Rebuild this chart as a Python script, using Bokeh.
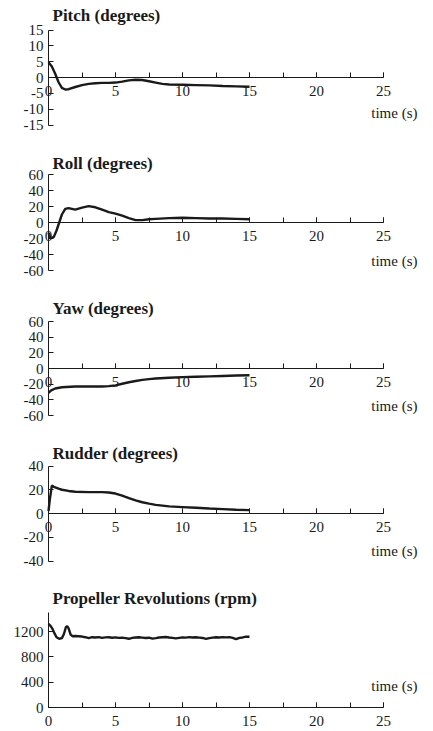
from bokeh.plotting import figure
from bokeh.models import (Range1d, LinearAxis, FixedTicker, SingleIntervalTicker, Label,
                          PrintfTickFormatter)
from bokeh.layouts import column
from bokeh.embed import file_html
from bokeh.resources import INLINE

# ---------------- data ----------------
pitch_t = [0, 0.25, 0.5, 0.75, 1.0, 1.25, 1.5, 2.0, 2.5, 3.0, 3.5, 4.0, 4.5, 5.0, 5.5,
           6.0, 6.5, 7.0, 7.5, 8.0, 8.5, 9.0, 10, 11, 12, 13, 14, 15]
pitch_deg = [4.8, 3.5, 1.2, -1.5, -3.3, -3.8, -3.7, -3.0, -2.4, -2.0, -1.8, -1.7, -1.7, -1.6, -1.3,
             -0.9, -0.7, -0.8, -1.2, -1.6, -2.0, -2.2, -2.3, -2.4, -2.5, -2.7, -2.8, -2.9]

roll_t = [0, 0.15, 0.4, 0.6, 0.8, 1.0, 1.25, 1.5, 1.75, 2.0, 2.5, 3.0, 3.5, 4.0, 4.5, 5.0,
          5.5, 6.0, 6.5, 7.0, 7.5, 8.0, 9.0, 10, 11, 12, 13, 14, 15]
roll_deg = [-13, -20, -18, -10, 0, 10, 17, 18, 17, 16, 18.5, 20.5, 19, 16, 13, 11,
            8.5, 5.5, 3, 3, 4, 4.5, 5.5, 6, 5.5, 5, 5, 4.5, 4]

yaw_t = [0, 0.2, 0.5, 1.0, 2.0, 3.0, 4.0, 4.5, 5.0, 5.5, 6.0, 6.5, 7.0, 7.5, 8.0, 9.0,
         10, 11, 12, 13, 14, 15]
yaw_deg = [-31, -28, -25.5, -24, -23, -23, -23, -22.5, -21.5, -19.5, -17.5, -16, -14.5, -13.5, -12.8, -11.8,
           -11, -10.5, -10, -9.5, -9, -8.7]

rudder_t = [0, 0.1, 0.25, 0.4, 0.75, 1.0, 1.5, 2.0, 3.0, 4.0, 4.5, 5.0, 5.5, 6.0, 6.5, 7.0,
            7.5, 8.0, 9.0, 10, 11, 12, 13, 14, 15]
rudder_deg = [2, 12, 23.5, 22.5, 21, 20, 19, 18.3, 18, 18, 17.7, 16.8, 15, 13, 11, 9.5,
              8.3, 7.3, 6, 5.4, 4.8, 4.2, 3.7, 3.2, 2.8]

rpm_t = [0, 0.15, 0.3, 0.45, 0.6, 0.8, 1.0, 1.15, 1.3, 1.4, 1.5, 1.65, 1.8,
         2.0, 2.25, 2.5, 2.75, 3.0, 3.25, 3.5, 3.75, 4.0, 4.25, 4.5, 4.75, 5.0, 5.25, 5.5, 5.75,
         6.0, 6.25, 6.5, 6.75, 7.0, 7.25, 7.5, 7.75, 8.0, 8.25, 8.5, 8.75, 9.0, 9.25, 9.5, 9.75,
         10.0, 10.25, 10.5, 10.75, 11.0, 11.25, 11.5, 11.75, 12.0, 12.25, 12.5, 12.75, 13.0, 13.25,
         13.5, 13.75, 14.0, 14.25, 14.5, 14.75, 15.0]
rpm = [1320, 1290, 1240, 1170, 1110, 1085, 1095, 1160, 1270, 1285, 1250, 1150, 1125,
       1130, 1125, 1120, 1110, 1095, 1110, 1105, 1112, 1100, 1108, 1110, 1102, 1108, 1100, 1104, 1095,
       1085, 1100, 1106, 1110, 1104, 1098, 1102, 1088, 1096, 1105, 1110, 1114, 1106, 1100, 1092, 1100,
       1108, 1104, 1112, 1106, 1110, 1104, 1098, 1084, 1096, 1104, 1110, 1106, 1112, 1108,
       1112, 1100, 1080, 1100, 1106, 1118, 1116]

titles = ["Pitch (degrees)", "Roll (degrees)", "Yaw (degrees)", "Rudder (degrees)",
          "Propeller Revolutions (rpm)"]
pitch_ticks = [-15, -10, -5, 0, 5, 10, 15]
roll_ticks = [-60, -40, -20, 0, 20, 40, 60]
yaw_ticks = [-60, -40, -20, 0, 20, 40, 60]
rudder_ticks = [-40, -20, 0, 20, 40]
rpm_ticks = [0, 400, 800, 1200]
time_label = "time (s)"

# ---------------- layout helpers ----------------
W = 433
X0_PX = 48.0      # pixel column of t = 0
PX_PER_S = 13.4   # pixels per second
FONT = "Liberation Serif"
INK = "#1a1a1a"


def make_panel(title, t, y, y_ticks, y_bounds, height, zero_px, px_per_unit,
               title_px, time_px):
    x_start = -X0_PX / PX_PER_S
    x_end = (W - X0_PX) / PX_PER_S
    y_end = zero_px / px_per_unit
    y_start = -(height - zero_px) / px_per_unit
    p = figure(width=W, height=height,
               x_range=Range1d(x_start, x_end), y_range=Range1d(y_start, y_end),
               output_backend="svg", toolbar_location=None,
               x_axis_type=None, y_axis_type=None, min_border=0)
    p.outline_line_color = None
    p.background_fill_color = "white"
    p.border_fill_color = "white"

    xaxis = LinearAxis(fixed_location=0, bounds=(0, 25),
                       ticker=SingleIntervalTicker(interval=5, num_minor_ticks=2),
                       formatter=PrintfTickFormatter(format="%d"))
    yaxis = LinearAxis(fixed_location=0, bounds=y_bounds,
                       ticker=FixedTicker(ticks=y_ticks, minor_ticks=[]),
                       formatter=PrintfTickFormatter(format="%d"))
    for ax in (xaxis, yaxis):
        ax.axis_line_color = INK
        ax.axis_line_width = 1
        ax.major_tick_line_color = INK
        ax.minor_tick_line_color = INK
        ax.major_tick_in = 5
        ax.major_tick_out = 0
        ax.minor_tick_in = 5
        ax.minor_tick_out = 0
        ax.major_label_text_font = FONT
        ax.major_label_text_font_size = "15px"
        ax.major_label_text_color = INK
    xaxis.major_label_standoff = 8
    yaxis.major_label_standoff = 5
    p.add_layout(xaxis, "below")
    p.add_layout(yaxis, "left")

    p.line(t, y, line_width=2.4, line_color=INK)

    tx = (52 - X0_PX) / PX_PER_S
    ty = (zero_px - title_px) / px_per_unit
    p.add_layout(Label(x=tx, y=ty, text=title, text_font=FONT, text_font_style="bold",
                       text_font_size="17px", text_color=INK, text_baseline="middle",
                       text_align="left"))
    lx = (417 - X0_PX) / PX_PER_S
    ly = (zero_px - time_px) / px_per_unit
    p.add_layout(Label(x=lx, y=ly, text=time_label, text_font=FONT,
                       text_font_size="15px", text_color=INK, text_baseline="middle",
                       text_align="right"))
    return p


p1 = make_panel(titles[0], pitch_t, pitch_deg, pitch_ticks, (-15, 15),
                140, 77, 95 / 30, 15, 112)
p2 = make_panel(titles[1], roll_t, roll_deg, roll_ticks, (-60, 60),
                150, 82, 96 / 120, 23, 120)
p3 = make_panel(titles[2], yaw_t, yaw_deg, yaw_ticks, (-60, 60),
                145, 78, 94 / 120, 18, 115)
p4 = make_panel(titles[3], rudder_t, rudder_deg, rudder_ticks, (-40, 40),
                145, 78, 95 / 80, 18, 115)
p5 = make_panel(titles[4], rpm_t, rpm, rpm_ticks, (0, 1500),
                151, 127, 95 / 1500, 18, 105)

layout = column(p1, p2, p3, p4, p5, spacing=0)
open("out.html", "w").write(file_html(layout, INLINE))
